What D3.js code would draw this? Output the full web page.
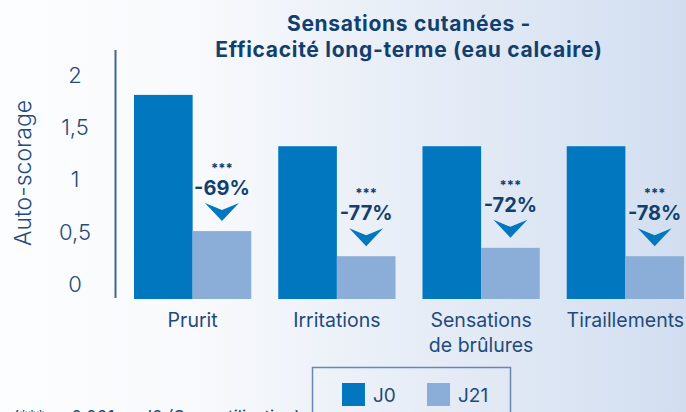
<!DOCTYPE html>
<html>
<head>
<meta charset="utf-8">
<script src="https://cdn.jsdelivr.net/npm/d3@7"></script>
<style>
  html, body { margin: 0; padding: 0; }
  body { width: 686px; height: 412px; overflow: hidden; }
  text { font-family: Inter, "Open Sans", sans-serif; }
</style>
</head>
<body>
<div id="chart"></div>
<script>
// data
var categories = [["Prurit"], ["Irritations"], ["Sensations", "de brûlures"], ["Tiraillements"]];
var series = ["J0", "J21"];
var j0 = [1.81, 1.32, 1.32, 1.32];
var j21 = [0.51, 0.27, 0.35, 0.27];
var changes = ["-69%", "-77%", "-72%", "-78%"];
var yTicks = [0, 0.5, 1, 1.5, 2];

var width = 686,
  height = 412,
  base = 299,
  navy = "#123f6e",
  colors = { J0: "#0077be", J21: "#8aaed8" };

var svg = d3.select("#chart").append("svg")
  .attr("width", width)
  .attr("height", height);

var grad = svg.append("defs").append("linearGradient")
  .attr("id", "bg")
  .attr("x1", "0").attr("x2", "1").attr("y1", "0").attr("y2", "0");
grad.append("stop").attr("offset", "0").attr("stop-color", "#fcfdfe");
grad.append("stop").attr("offset", "0.3").attr("stop-color", "#f7f9fc");
grad.append("stop").attr("offset", "1").attr("stop-color", "#d2def0");

svg.append("rect")
  .attr("width", width).attr("height", height)
  .attr("fill", "url(#bg)");

var keys = categories.map(function (c) { return c.join(" "); });

var x = d3.scaleBand()
  .domain(keys)
  .range([134, 684])
  .paddingInner(0.187);

var x1 = d3.scaleBand()
  .domain(series)
  .range([0, x.bandwidth()]);

var y = d3.scaleLinear()
  .domain([0, 2])
  .range([284.5, 75]);

var rows = keys.map(function (k, i) {
  return { key: k, label: categories[i], J0: j0[i], J21: j21[i], change: changes[i] };
});

// title
var titleLines = ["Sensations cutanées -", "Efficacité long-terme (eau calcaire)"];
svg.append("g").selectAll("text")
  .data(titleLines)
  .enter().append("text")
  .attr("x", 409)
  .attr("y", function (d, i) { return 31 + i * 26; })
  .attr("text-anchor", "middle")
  .attr("font-weight", 700)
  .attr("font-size", 21)
  .attr("letter-spacing", 0.7)
  .attr("fill", navy)
  .text(function (d) { return d; });

// y axis
svg.append("line")
  .attr("x1", 115.5).attr("x2", 115.5)
  .attr("y1", 50).attr("y2", 298)
  .attr("stroke", "#3f6591")
  .attr("stroke-width", 2);

var yAxis = svg.append("g")
  .attr("transform", "translate(75,0)")
  .call(d3.axisLeft(y)
    .tickValues(yTicks)
    .tickSize(0)
    .tickPadding(0)
    .tickFormat(function (d) { return String(d).replace(".", ","); }));
yAxis.select(".domain").remove();
yAxis.selectAll("text")
  .attr("text-anchor", "middle")
  .attr("font-size", 22)
  .attr("font-weight", 300)
  .attr("font-family", "Inter, sans-serif")
  .attr("fill", "#1f4a7c");

svg.append("text")
  .attr("transform", "translate(31,173) rotate(-90)")
  .attr("text-anchor", "middle")
  .attr("font-size", 23)
  .attr("font-weight", 300)
  .attr("fill", "#1f4a7c")
  .text("Auto-scorage");

// bars
var groups = svg.append("g").selectAll("g")
  .data(rows)
  .enter().append("g")
  .attr("transform", function (d) { return "translate(" + x(d.key) + ",0)"; });

groups.selectAll("rect")
  .data(function (d) { return series.map(function (s) { return { s: s, v: d[s] }; }); })
  .enter().append("rect")
  .attr("x", function (d) { return x1(d.s); })
  .attr("width", x1.bandwidth())
  .attr("y", function (d) { return y(d.v); })
  .attr("height", function (d) { return base - y(d.v); })
  .attr("fill", function (d) { return colors[d.s]; });

// annotations above J21
var ann = groups.append("g")
  .attr("transform", function (d) {
    return "translate(" + (x1("J21") + x1.bandwidth() / 2) + "," + y(d.J21) + ")";
  });

ann.append("text")
  .attr("y", -58)
  .attr("text-anchor", "middle")
  .attr("font-size", 13)
  .attr("font-weight", 700)
  .attr("fill", navy)
  .text("***");

ann.append("text")
  .attr("y", -36)
  .attr("text-anchor", "middle")
  .attr("font-size", 20)
  .attr("font-weight", 700)
  .attr("fill", navy)
  .text(function (d) { return d.change; });

ann.append("path")
  .attr("d", "M-17,-28 L0,-21 L17,-28 L0,-10 Z")
  .attr("fill", "#0077be");

// category labels
groups.append("text")
  .attr("x", x.bandwidth() / 2)
  .attr("text-anchor", "middle")
  .attr("font-size", 19.5)
  .attr("font-weight", 400)
  .attr("fill", "#1f4a7c")
  .selectAll("tspan")
  .data(function (d) { return d.label; })
  .enter().append("tspan")
  .attr("x", x.bandwidth() / 2)
  .attr("y", function (d, i) { return 327 + i * 25; })
  .text(function (d) { return d; });

// legend
var legend = svg.append("g");
legend.append("rect")
  .attr("x", 312.5).attr("y", 367.5)
  .attr("width", 198).attr("height", 60)
  .attr("fill", "none")
  .attr("stroke", "#6a88aa")
  .attr("stroke-width", 1.5);

var li = legend.selectAll("g.item")
  .data(series)
  .enter().append("g")
  .attr("class", "item")
  .attr("transform", function (d, i) { return "translate(" + (342 + i * 85) + ",383)"; });
li.append("rect")
  .attr("width", 23).attr("height", 23)
  .attr("fill", function (d) { return colors[d]; });
li.append("text")
  .attr("x", 31).attr("y", 19)
  .attr("font-size", 19)
  .attr("fill", "#1f4a7c")
  .text(function (d) { return d; });

// footnote, mostly cut off at the bottom as in the source
svg.append("text")
  .attr("x", 13).attr("y", 423)
  .attr("font-size", 17)
  .attr("fill", "#1f4a7c")
  .text("(*** p<0,001 vs J0 (Sans utilisation)");
</script>
</body>
</html>
